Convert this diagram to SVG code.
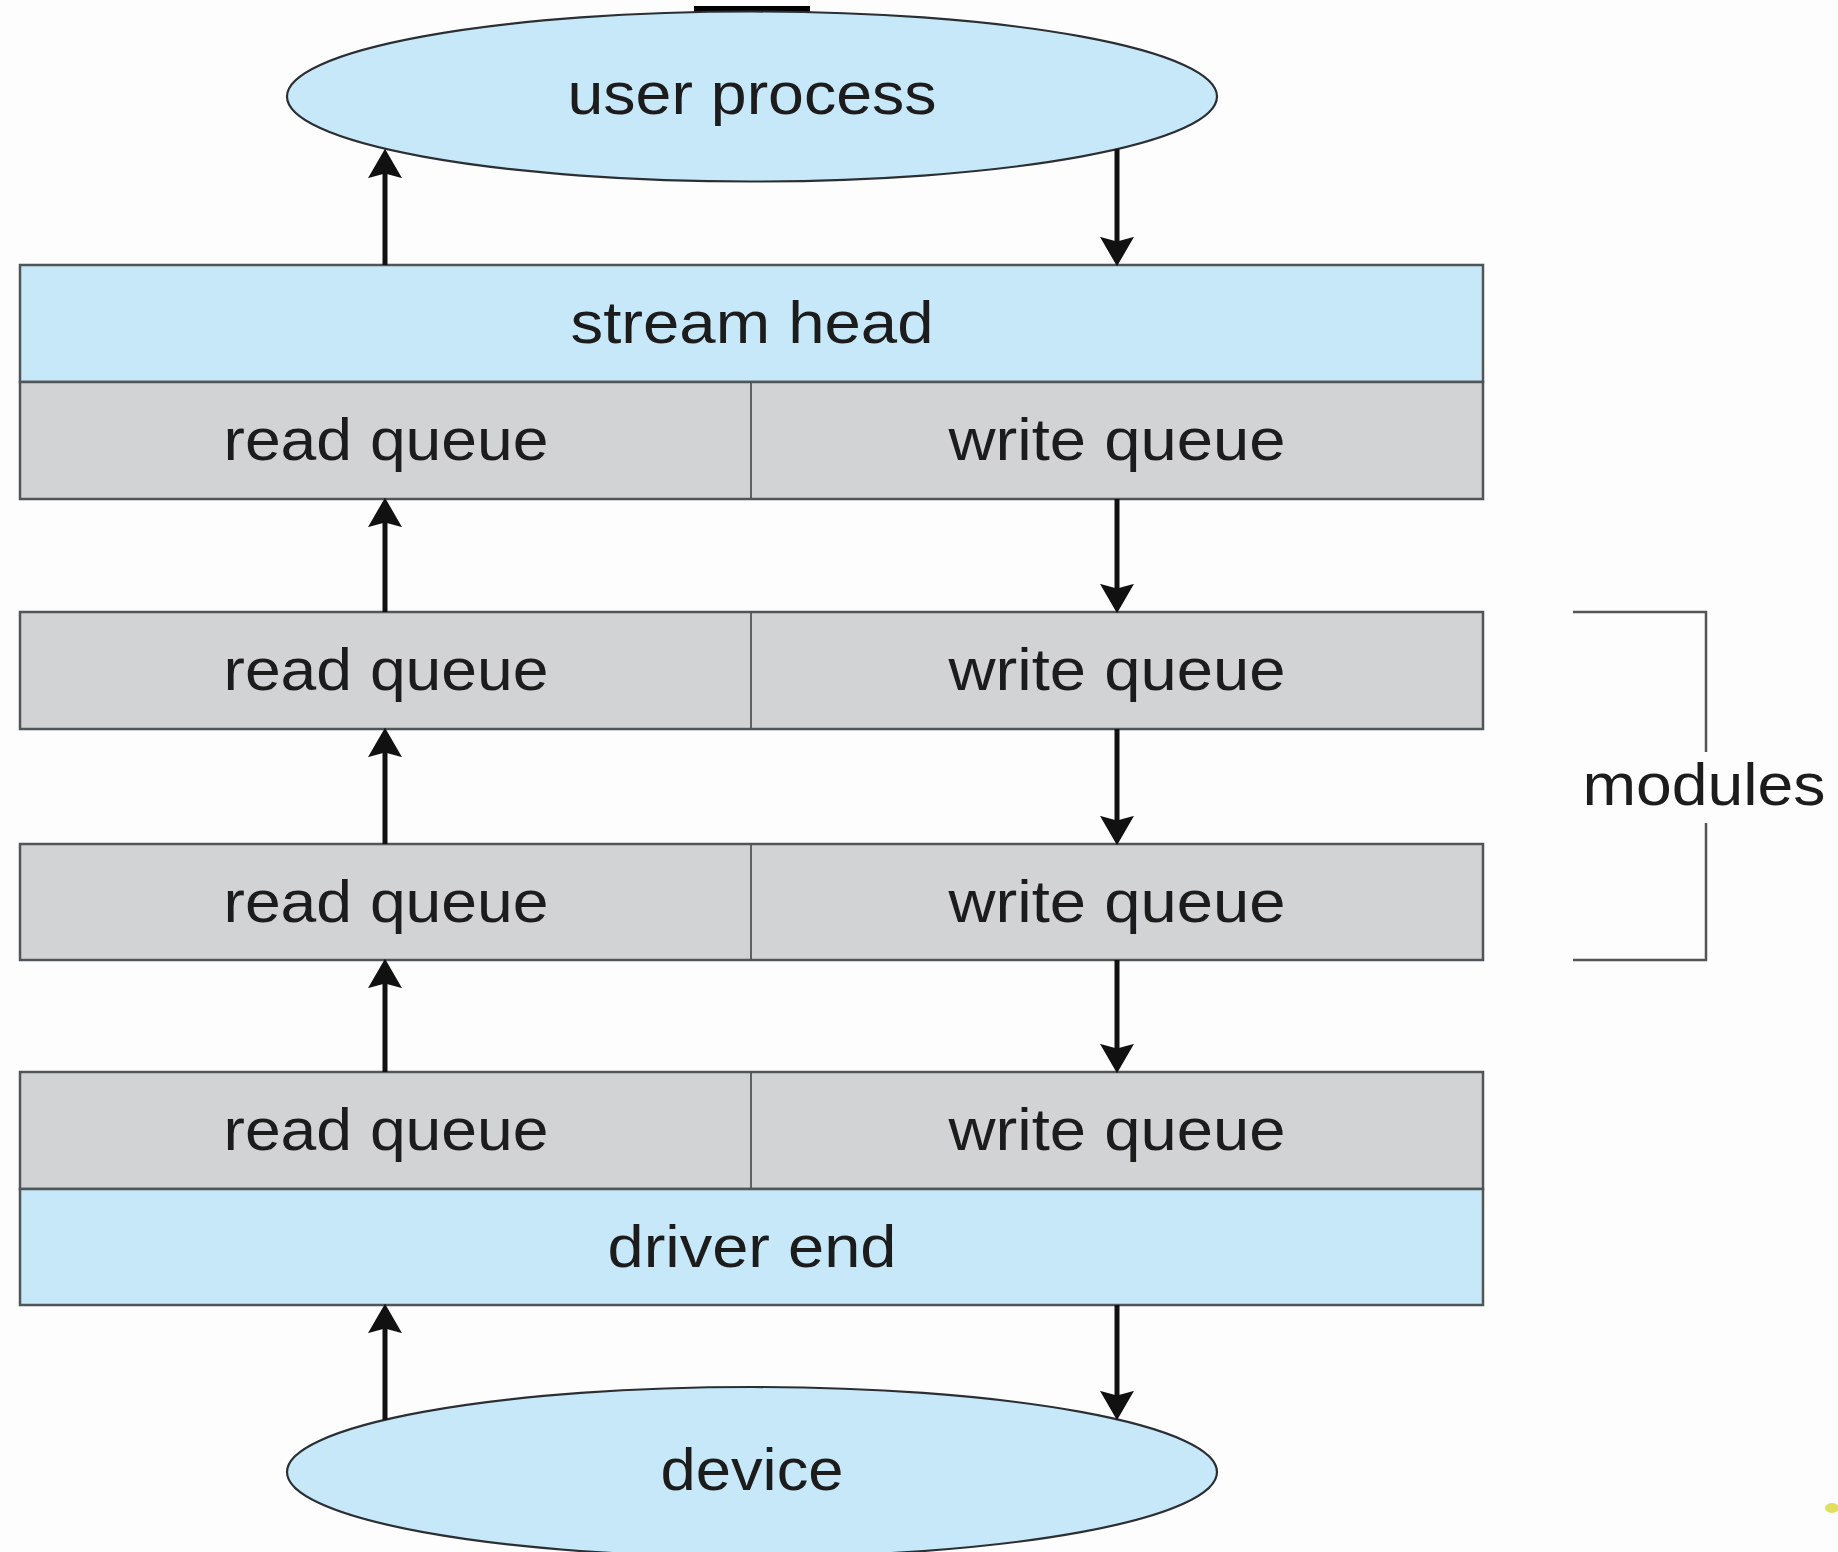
<svg xmlns="http://www.w3.org/2000/svg" width="1838" height="1552" viewBox="0 0 1838 1552">
<style>
.t{font-family:"Liberation Sans",Arial,Helvetica,sans-serif;font-size:59px;fill:#1c1c1c;text-anchor:middle}
.blue{fill:#c7e8f8;stroke:#505558;stroke-width:2.5}
.gray{fill:#d2d3d5;stroke:#505558;stroke-width:2.5}
.split{stroke:#505558;stroke-width:1.8}
.ell{fill:#c7e8f8;stroke:#2b2f33;stroke-width:2.2}
.arr{stroke:#111;stroke-width:5;fill:none;marker-end:url(#ah)}
.br{stroke:#555;stroke-width:2.5;fill:none}
</style>
<defs>
<marker id="ah" markerUnits="userSpaceOnUse" markerWidth="34" markerHeight="34" refX="16" refY="15" orient="auto" viewBox="0 0 30 30">
<path d="M0,0 L26,15 L0,30 L4,15 Z" fill="#111"/>
</marker>
</defs>
<rect width="1838" height="1552" fill="#fdfdfd"/>
<rect x="694" y="6" width="116" height="6" fill="#000"/>

<g id="user-process">
<ellipse class="ell" cx="752" cy="96.5" rx="465" ry="85"/>
<text class="t" x="752" y="114" textLength="369" lengthAdjust="spacingAndGlyphs">user process</text>
</g>

<g id="stream-head">
<rect class="blue" x="20" y="265" width="1463" height="117"/>
<text class="t" x="752" y="343" textLength="363" lengthAdjust="spacingAndGlyphs">stream head</text>
</g>
<g id="head-queues">
<rect class="gray" x="20" y="382" width="1463" height="117"/>
<line class="split" x1="751" y1="382" x2="751" y2="499"/>
<text class="t" x="386" y="460" textLength="325" lengthAdjust="spacingAndGlyphs">read queue</text>
<text class="t" x="1117" y="460" textLength="337" lengthAdjust="spacingAndGlyphs">write queue</text>
</g>

<g id="module1">
<rect class="gray" x="20" y="612" width="1463" height="117"/>
<line class="split" x1="751" y1="612" x2="751" y2="729"/>
<text class="t" x="386" y="690" textLength="325" lengthAdjust="spacingAndGlyphs">read queue</text>
<text class="t" x="1117" y="690" textLength="337" lengthAdjust="spacingAndGlyphs">write queue</text>
</g>

<g id="module2">
<rect class="gray" x="20" y="844" width="1463" height="116"/>
<line class="split" x1="751" y1="844" x2="751" y2="960"/>
<text class="t" x="386" y="922" textLength="325" lengthAdjust="spacingAndGlyphs">read queue</text>
<text class="t" x="1117" y="922" textLength="337" lengthAdjust="spacingAndGlyphs">write queue</text>
</g>

<g id="driver-queues">
<rect class="gray" x="20" y="1072" width="1463" height="117"/>
<line class="split" x1="751" y1="1072" x2="751" y2="1189"/>
<text class="t" x="386" y="1150" textLength="325" lengthAdjust="spacingAndGlyphs">read queue</text>
<text class="t" x="1117" y="1150" textLength="337" lengthAdjust="spacingAndGlyphs">write queue</text>
</g>
<g id="driver-end">
<rect class="blue" x="20" y="1189" width="1463" height="116"/>
<text class="t" x="752" y="1267" textLength="289" lengthAdjust="spacingAndGlyphs">driver end</text>
</g>

<g id="device">
<ellipse class="ell" cx="752" cy="1472" rx="465" ry="85"/>
<text class="t" x="752" y="1490" textLength="183" lengthAdjust="spacingAndGlyphs">device</text>
</g>

<g id="modules-label">
<polyline class="br" points="1573,612 1706,612 1706,752"/>
<polyline class="br" points="1706,823 1706,960 1573,960"/>
<text class="t" x="1704" y="805" textLength="243" lengthAdjust="spacingAndGlyphs">modules</text>
</g>

<g id="connectors">
<line class="arr" x1="385" y1="265" x2="385" y2="160"/>
<line class="arr" x1="1117" y1="149" x2="1117" y2="255"/>
<line class="arr" x1="385" y1="612" x2="385" y2="509"/>
<line class="arr" x1="1117" y1="499" x2="1117" y2="602"/>
<line class="arr" x1="385" y1="844" x2="385" y2="739"/>
<line class="arr" x1="1117" y1="729" x2="1117" y2="834"/>
<line class="arr" x1="385" y1="1072" x2="385" y2="970"/>
<line class="arr" x1="1117" y1="960" x2="1117" y2="1062"/>
<line class="arr" x1="385" y1="1420" x2="385" y2="1315"/>
<line class="arr" x1="1117" y1="1305" x2="1117" y2="1409"/>
</g>
<ellipse cx="1832" cy="1508" rx="7" ry="5" fill="#e0e060"/>
</svg>
